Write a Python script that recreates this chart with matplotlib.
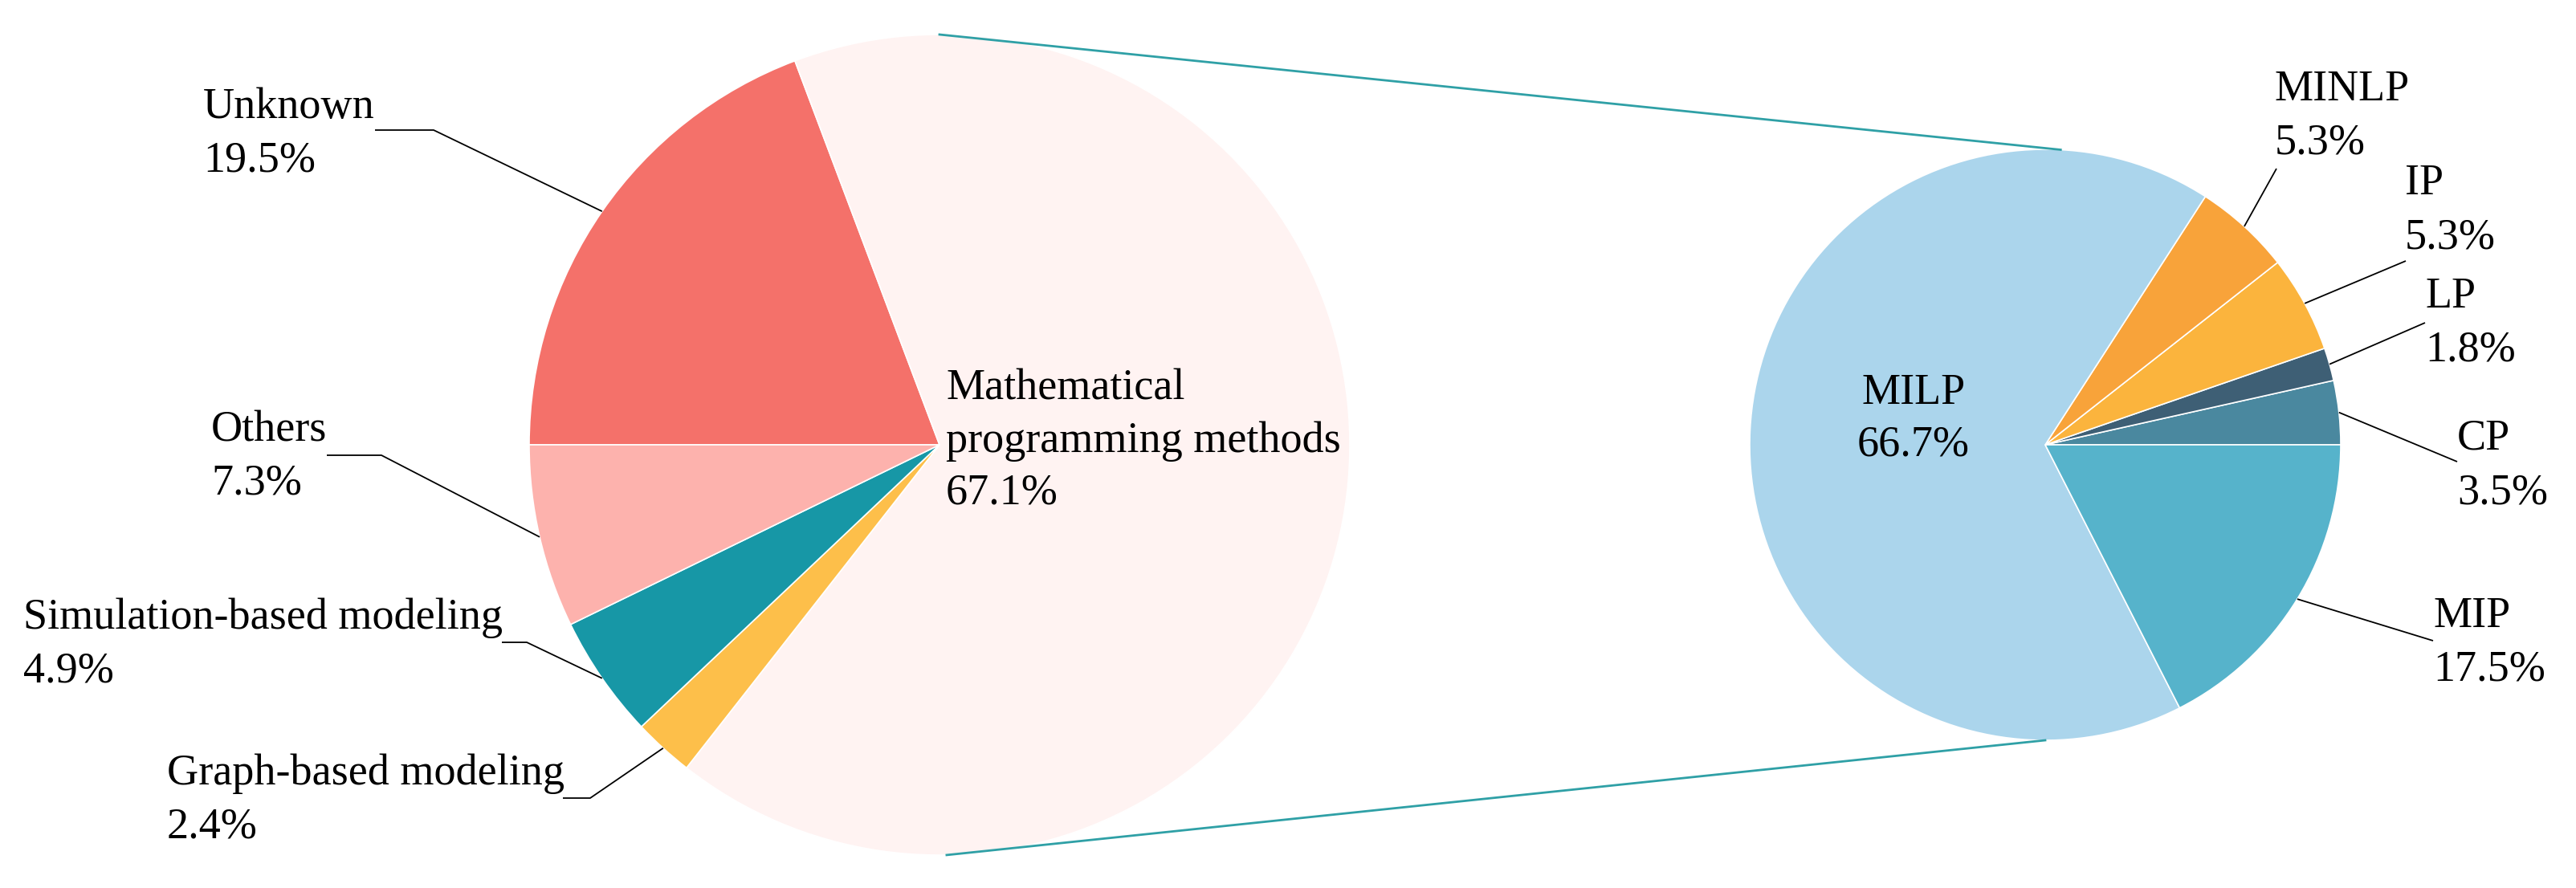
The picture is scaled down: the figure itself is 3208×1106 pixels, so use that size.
import numpy as np
import matplotlib.pyplot as plt

plt.rcParams['font.family'] = ['Liberation Serif', 'DejaVu Serif']

W, H = 3208, 1106

# left pie, clockwise from 9 o'clock
main_labels = ['Unknown', 'Mathematical\nprogramming methods', 'Graph-based modeling',
               'Simulation-based modeling', 'Others']
main_values = [19.5, 67.1, 2.4, 4.9, 7.3]
main_colors = ['#F4716A', '#FFF3F2', '#FDBF4A', '#1797A6', '#FDB2AD']

# right pie (breakdown of mathematical programming), counter-clockwise from 3 o'clock
sub_labels = ['CP', 'LP', 'IP', 'MINLP', 'MILP', 'MIP']
sub_values = [3.5, 1.8, 5.3, 5.3, 66.7, 17.5]
sub_colors = ['#4A889F', '#3E5F75', '#FBB43D', '#F8A33A', '#ABD5EC', '#56B3CB']

fig = plt.figure(figsize=(W / 100, H / 100), dpi=100)
ax = fig.add_axes([0, 0, 1, 1])

c1, r1 = (1170, H - 554), 511
c2, r2 = (2547, H - 554), 368
wp = dict(edgecolor='white', linewidth=1.2)

w1, _ = ax.pie(main_values, colors=main_colors, startangle=180, counterclock=False,
               center=c1, radius=r1, wedgeprops=wp)
w2, _ = ax.pie(sub_values, colors=sub_colors, startangle=0, counterclock=True,
               center=c2, radius=r2, wedgeprops=wp)

ax.set_xlim(0, W)
ax.set_ylim(0, H)
ax.set_aspect('equal')
ax.axis('off')

fs = 39
pitch = 66


def rim(w):
    a = np.deg2rad((w.theta1 + w.theta2) / 2)
    cx, cy = w.center
    return cx + w.r * np.cos(a), cy + w.r * np.sin(a)


def label(x, y0, lines, ha='left', step=pitch):
    # one text per line, y0 = baseline of first line (image coords)
    for i, s in enumerate(lines):
        ax.text(x, H - (y0 + i * step), s, fontsize=fs, ha=ha, va='baseline')


def leader(w, pts):
    ex, ey = rim(w)
    xs = [p[0] for p in pts] + [ex]
    ys = [H - p[1] for p in pts] + [ey]
    ax.plot(xs, ys, color='black', lw=1.3, solid_capstyle='butt')


# label left x, first baseline, leader points (image coords)
lab_main = {
    'Unknown': (253, 147, [(467, 162), (540, 162)]),
    'Others': (263, 550, [(407, 567), (475, 567)]),
    'Simulation-based modeling': (29, 783, [(625, 800), (656, 800)]),
    'Graph-based modeling': (208, 977, [(701, 994), (735, 994)]),
}
for w, lab, v in zip(w1, main_labels, main_values):
    lines = lab.split('\n') + [f'{v}%']
    if lab in lab_main:
        x, y0, pts = lab_main[lab]
        label(x, y0, lines)
        leader(w, pts)
    else:
        label(1178, 498, lines, step=65)

lab_sub = {
    'MINLP': (2833, 125, [(2835, 210)]),
    'IP': (2995, 242, [(2996, 325)]),
    'LP': (3020, 383, [(3020, 402)]),
    'CP': (3060, 560, [(3060, 575)]),
    'MIP': (3030, 781, [(3030, 798)]),
}
for w, lab, v in zip(w2, sub_labels, sub_values):
    lines = [lab, f'{v}%']
    if lab in lab_sub:
        x, y0, pts = lab_sub[lab]
        label(x, y0, lines, step=67)
        leader(w, pts)
    else:
        label(2383, 503, lines, ha='center', step=65)

# connector lines between the two pies
for a1, a2 in [(90, 87), (271, 270)]:
    p1 = (c1[0] + r1 * np.cos(np.deg2rad(a1)), c1[1] + r1 * np.sin(np.deg2rad(a1)))
    p2 = (c2[0] + r2 * np.cos(np.deg2rad(a2)), c2[1] + r2 * np.sin(np.deg2rad(a2)))
    ax.plot([p1[0], p2[0]], [p1[1], p2[1]], color='#2FA0A6', lw=2.0)

fig.savefig('out.png', dpi=100)
